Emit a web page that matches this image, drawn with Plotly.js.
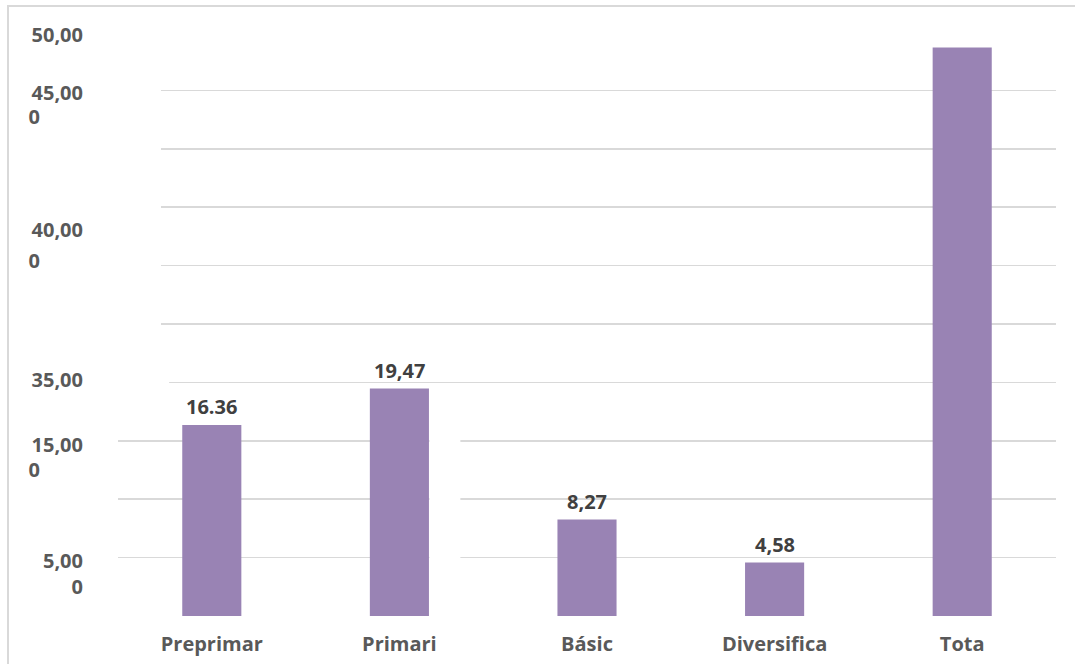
<!DOCTYPE html>
<html>
<head>
<meta charset="utf-8">
<script src="https://cdn.plot.ly/plotly-3.0.1.min.js"></script>
<style>
  html, body { margin: 0; padding: 0; width: 1075px; height: 664px; overflow: hidden; background: #fff; }
  #chart { position: absolute; left: 0; top: 0; width: 1075px; height: 664px; }
  #frame { position: absolute; left: 7px; top: 5px; width: 2000px; height: 2000px;
           border: 2px solid #d9d9d9; pointer-events: none; }
</style>
</head>
<body>
<div id="chart"></div>
<div id="frame"></div>
<script>
// ---- data ----
const categories = ["Preprimar", "Primari", "Básic", "Diversifica", "Tota"];
const values = [16.36, 19.47, 8.27, 4.58, 48.68];
const valueLabels = ["16.36", "19,47", "8,27", "4,58", ""];

// gridline values
const gridVals = [0, 5, 10, 15, 20, 25, 30, 35, 40, 45];

// y tick labels as printed (right-aligned column)
const yTickVals = [49.74, 44.78, 33.02, 20.23, 14.67, 4.74, 2.50];
const yTickText = ["50,00", "45,00", "40,00", "35,00", "15,00", "5,00", "0"];
// second line "0" of some labels (left column)
const yTickVals2 = [42.69, 30.41, 12.53];
const yTickText2 = ["0", "0", "0"];

const barColor = "#9983b4";
const xLabelFont = { family: "Open Sans, Noto Sans, sans-serif", size: 20, color: "#595959", weight: "bold" };
const yLabelFont = { family: "Open Sans, Noto Sans, sans-serif", size: 20, color: "#595959", weight: "bold" };

const trace = {
  type: "bar",
  x: categories,
  y: values,
  marker: { color: barColor, line: { width: 0 } },
  width: 0.315,
  hoverinfo: "skip"
};

const annotations = categories.map((c, i) => ({
  x: c, y: values[i], xref: "x", yref: "y",
  text: valueLabels[i], showarrow: false,
  yanchor: "middle", yshift: 18,
  font: { family: "Open Sans, Noto Sans, sans-serif", size: 20, color: "#404040", weight: "bold" }
})).filter(a => a.text !== "");

// white patches that hide parts of the gridlines, as in the reference
const cover = { type: "rect", layer: "above", fillcolor: "#ffffff", line: { width: 0 } };
const shapes = [
  Object.assign({}, cover, { xref: "paper", yref: "y", x0: -0.01, x1: 0.0458, y0: 22, y1: 47 }),
  Object.assign({}, cover, { xref: "paper", yref: "y", x0: -0.01, x1: 0.0545, y0: 18, y1: 22 }),
  Object.assign({}, cover, { xref: "x", yref: "y", x0: 1.16, x1: 1.325, y0: 2, y1: 17 })
];

const layout = {
  width: 1075, height: 664,
  margin: { l: 118, r: 19, t: 32, b: 48 },
  paper_bgcolor: "#ffffff", plot_bgcolor: "#ffffff",
  showlegend: false,
  xaxis: {
    type: "category",
    range: [-0.5, 4.5],
    showgrid: false, zeroline: false, showline: false,
    ticks: "", tickfont: xLabelFont,
    ticklabelstandoff: 14,
    fixedrange: true
  },
  yaxis: {
    range: [0, 50],
    tickmode: "array", tickvals: gridVals,
    showticklabels: false, ticks: "",
    showgrid: true, gridcolor: "#d9d9d9", gridwidth: 1.5,
    zeroline: false, showline: false,
    fixedrange: true
  },
  yaxis2: {
    overlaying: "y", side: "left",
    range: [0, 50],
    tickmode: "array", tickvals: yTickVals, ticktext: yTickText,
    showgrid: false, zeroline: false, showline: false, ticks: "",
    tickfont: yLabelFont,
    ticklabelstandoff: 34,
    fixedrange: true
  },
  yaxis3: {
    overlaying: "y", side: "left",
    range: [0, 50],
    tickmode: "array", tickvals: yTickVals2, ticktext: yTickText2,
    showgrid: false, zeroline: false, showline: false, ticks: "",
    tickfont: yLabelFont,
    ticklabelstandoff: 77,
    fixedrange: true
  },
  annotations: annotations,
  shapes: shapes
};

// invisible helper traces so the extra label axes render
const t2 = { type: "scatter", x: [categories[0]], y: [0], yaxis: "y2", mode: "markers", marker: { opacity: 0 }, hoverinfo: "skip" };
const t3 = { type: "scatter", x: [categories[0]], y: [0], yaxis: "y3", mode: "markers", marker: { opacity: 0 }, hoverinfo: "skip" };

Plotly.newPlot("chart", [trace, t2, t3], layout, { displayModeBar: false, staticPlot: true });
</script>
</body>
</html>
